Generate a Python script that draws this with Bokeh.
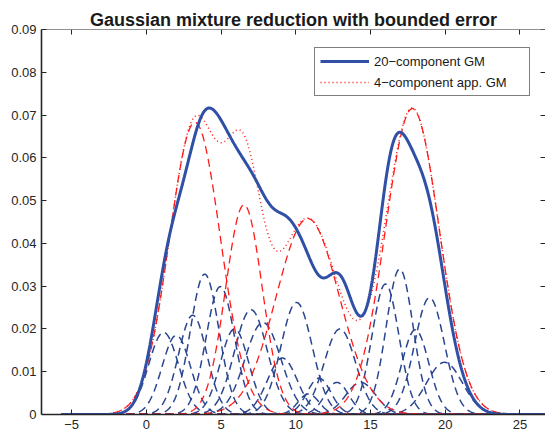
import numpy as np
from bokeh.plotting import figure
from bokeh.models import (Range1d, LinearAxis, FixedTicker, Legend, LegendItem,
                          Title, CustomJSTickFormatter)
from bokeh.embed import file_html
from bokeh.resources import INLINE

# ---- data ----
# 20-component Gaussian mixture (blue dashed components): mean, std, peak height
blue_means  = [1.15, 2.0, 3.1, 3.9, 4.95, 5.9, 7.0, 7.8, 9.1, 10.05,
               10.85, 11.55, 12.75, 12.95, 14.35, 16.0, 16.95, 18.0, 18.95, 19.95]
blue_sigmas = [1.0, 0.95, 0.95, 0.95, 0.95, 0.95, 1.1, 1.2, 1.0, 1.05,
               0.7, 0.8, 0.8, 1.05, 1.0, 0.9, 0.9, 0.9, 1.0, 1.2]
blue_peaks  = [0.0192, 0.0185, 0.0232, 0.0328, 0.0299, 0.0200, 0.0245, 0.0215, 0.0132, 0.0262,
               0.0048, 0.0085, 0.0075, 0.0200, 0.0075, 0.0305, 0.0340, 0.0198, 0.0273, 0.0122]

# 4-component approximation (red dashed components)
red_means  = [3.25, 6.53, 10.8, 17.8]
red_sigmas = [1.7, 1.22, 2.1, 1.8]
red_peaks  = [0.0683, 0.0490, 0.0458, 0.0715]

x_ticks = [-5, 0, 5, 10, 15, 20, 25]
x_tick_labels = ["\u22125", "0", "5", "10", "15", "20", "25"]
y_ticks = [0, 0.01, 0.02, 0.03, 0.04, 0.05, 0.06, 0.07, 0.08, 0.09]
y_tick_labels = ["0", "0.01", "0.02", "0.03", "0.04", "0.05", "0.06", "0.07", "0.08", "0.09"]

title_text = "Gaussian mixture reduction with bounded error"
legend_labels = ["20\u2212component GM", "4\u2212component app. GM"]

x_start, x_end = -5.7, 27.0

# ---- styling ----
BLUE = "#3050a6"
BLUE_DASH = "#2a4590"
RED = "#ff1a1a"
AX = "#262626"
FONT = "Liberation Sans"
X_LO, X_HI = -7.02, 26.71

xs = np.linspace(x_start, x_end, 700)


def component(m, s, h):
    return h * np.exp(-0.5 * ((xs - m) / s) ** 2)


blue_curves = [component(m, s, h) for m, s, h in zip(blue_means, blue_sigmas, blue_peaks)]
red_curves = [component(m, s, h) for m, s, h in zip(red_means, red_sigmas, red_peaks)]
blue_total = np.sum(blue_curves, axis=0)
red_total = np.sum(red_curves, axis=0)

p = figure(width=545, height=435, output_backend="svg", toolbar_location=None,
           x_range=Range1d(X_LO, X_HI), y_range=Range1d(0, 0.09),
           min_border_left=41, min_border_right=0, min_border_top=29, min_border_bottom=21)
p.outline_line_color = None
p.xgrid.visible = False
p.ygrid.visible = False
p.background_fill_color = "white"
p.border_fill_color = "white"


def style_axis(ax, labels=True, line_width=1.2):
    ax.major_tick_in = 5
    ax.major_tick_out = 0
    ax.minor_tick_in = 0
    ax.minor_tick_out = 0
    ax.axis_line_color = AX
    ax.axis_line_width = line_width
    ax.major_tick_line_color = AX
    ax.major_tick_line_width = 1
    ax.major_label_text_font = FONT
    ax.major_label_text_font_size = "13px"
    ax.major_label_text_color = AX
    if not labels:
        ax.formatter = CustomJSTickFormatter(code="return ''")


xb = p.xaxis[0]
xb.ticker = FixedTicker(ticks=x_ticks, minor_ticks=[])
xb.major_label_overrides = {t: l for t, l in zip(x_ticks, x_tick_labels)}
style_axis(xb, line_width=1.5)
xb.major_label_standoff = 5

yl = p.yaxis[0]
yl.ticker = FixedTicker(ticks=y_ticks, minor_ticks=[])
yl.major_label_overrides = {t: l for t, l in zip(y_ticks, y_tick_labels)}
style_axis(yl, line_width=1.6)
yl.major_label_standoff = 5

top = LinearAxis(fixed_location=0.09, ticker=FixedTicker(ticks=x_ticks, minor_ticks=[]))
style_axis(top, labels=False, line_width=1.2)
p.add_layout(top, "above")

right = LinearAxis(fixed_location=X_HI, ticker=FixedTicker(ticks=y_ticks, minor_ticks=[]))
style_axis(right, labels=False)
right.axis_line_color = None
p.add_layout(right, "right")

for c in blue_curves:
    p.line(xs, c, line_color=BLUE_DASH, line_dash="8 5", line_width=1.5)
for c in red_curves:
    p.line(xs, c, line_color=RED, line_dash="8 5", line_width=1.3)
red_sum_r = p.line(xs, red_total, line_color=RED, line_dash="1 3", line_width=1.5)
blue_sum_r = p.line(xs, blue_total, line_color=BLUE, line_width=3)

legend = Legend(items=[LegendItem(label=legend_labels[0], renderers=[blue_sum_r]),
                       LegendItem(label=legend_labels[1], renderers=[red_sum_r])],
                location=(273, 317.7))
legend.border_line_color = "black"
legend.border_line_width = 1
legend.background_fill_color = "white"
legend.background_fill_alpha = 1
legend.padding = 5
legend.spacing = 5
legend.margin = 0
legend.glyph_height = 16
legend.label_height = 16
legend.glyph_width = 49
legend.label_standoff = 5
legend.label_width = 150
legend.label_text_font = FONT
legend.label_text_font_size = "13px"
legend.label_text_color = "#1a1a1a"
p.add_layout(legend)

title = Title(text=title_text, align="center", vertical_align="bottom", standoff=0,
              text_font=FONT, text_font_style="bold", text_font_size="18px",
              text_color="#1a1a1a")
p.add_layout(title, "above")

open("out.html", "w").write(file_html(p, INLINE))
